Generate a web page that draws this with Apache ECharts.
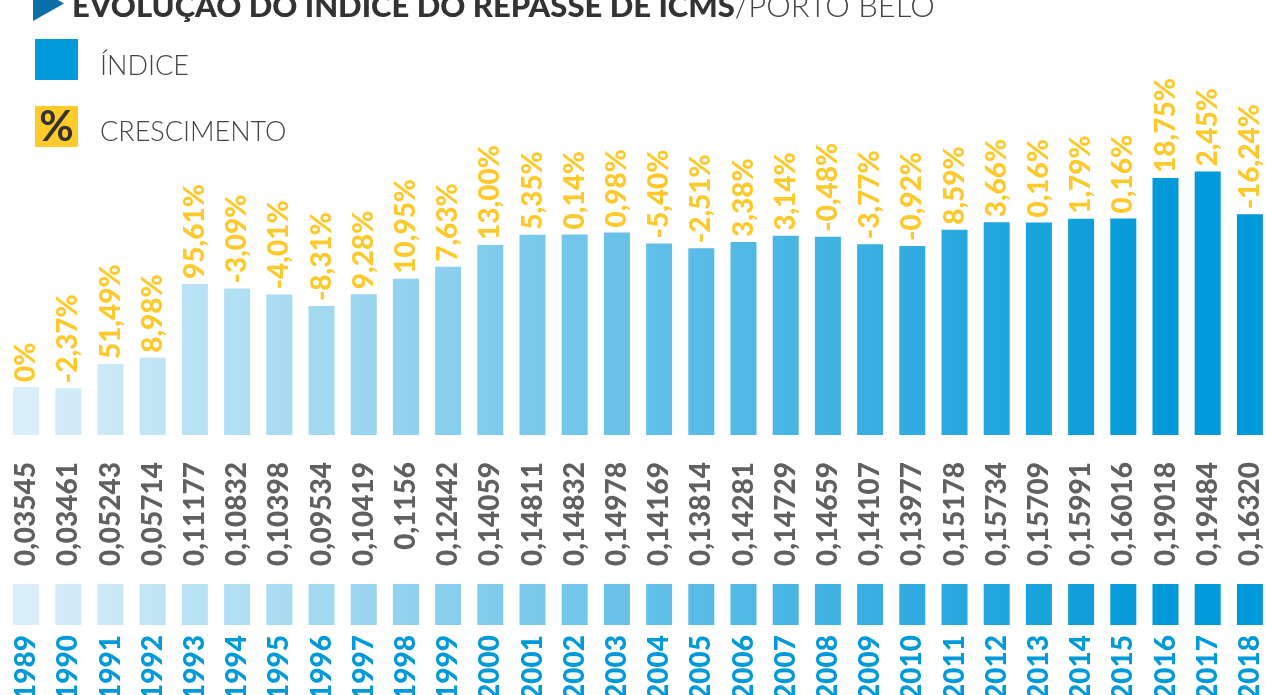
<!DOCTYPE html>
<html>
<head>
<meta charset="utf-8">
<script src="https://cdn.jsdelivr.net/npm/echarts@6/dist/echarts.min.js"></script>
<style>
  html, body { margin: 0; padding: 0; background: #fff; }
  #myChart { width: 1266px; height: 695px; }
</style>
</head>
<body>
<div id="myChart"></div>
<script>
const anos = ['1989', '1990', '1991', '1992', '1993', '1994', '1995', '1996', '1997', '1998',
  '1999', '2000', '2001', '2002', '2003', '2004', '2005', '2006', '2007', '2008',
  '2009', '2010', '2011', '2012', '2013', '2014', '2015', '2016', '2017', '2018'];
// índice como impresso (vírgula decimal)
const indiceTexto = ['0,03545', '0,03461', '0,05243', '0,05714', '0,11177', '0,10832', '0,10398', '0,09534', '0,10419', '0,1156',
  '0,12442', '0,14059', '0,14811', '0,14832', '0,14978', '0,14169', '0,13814', '0,14281', '0,14729', '0,14659',
  '0,14107', '0,13977', '0,15178', '0,15734', '0,15709', '0,15991', '0,16016', '0,19018', '0,19484', '0,16320'];
// crescimento em %
const crescimento = [0, -2.37, 51.49, 8.98, 95.61, -3.09, -4.01, -8.31, 9.28, 10.95,
  7.63, 13.00, 5.35, 0.14, 0.98, -5.40, -2.51, 3.38, 3.14, -0.48,
  -3.77, -0.92, 8.59, 3.66, 0.16, 1.79, 0.16, 18.75, 2.45, -16.24];

const indice = indiceTexto.map(s => parseFloat(s.replace(',', '.')));

const FONTE = 'Lato, "Open Sans", sans-serif';
const AMARELO = '#fec92b';
const AZUL = '#0099d9';

// cor em degradê da esquerda (claro) para a direita (azul)
function corRampa (t) {
  let k = Math.max(0, Math.min(1, t / 27));
  let a = [218, 239, 249], b = [0, 153, 217];
  let c = a.map((v, i) => Math.round(v + (b[i] - v) * k));
  return `rgb(${c[0]},${c[1]},${c[2]})`;
}
function degrade (i) {
  return new echarts.graphic.LinearGradient(0, 0, 1, 0, [
    { offset: 0, color: corRampa(i - 0.3) },
    { offset: 1, color: corRampa(i + 0.3) }
  ]);
}
function fmtPct (v) {
  if (v === 0) return '0%';
  return v.toFixed(2).replace('.', ',') + '%';
}

let myChart = echarts.init(document.getElementById('myChart'));

let option = {
  backgroundColor: '#fff',
  animation: false,
  graphic: [
    // triângulo do título
    {
      type: 'polygon',
      shape: { points: [[33, -14], [33, 21], [64, 3.5]] },
      style: { fill: '#0a6ea8' }
    },
    {
      type: 'text',
      left: 72,
      top: -9,
      style: {
        text: '{b|EVOLUÇÃO DO ÍNDICE DO REPASSE DE ICMS}{l|/PORTO BELO}',
        rich: {
          b: { fontFamily: FONTE, fontWeight: 900, fontSize: 31, fill: '#333333' },
          l: { fontFamily: FONTE, fontWeight: 300, fontSize: 31, fill: '#444444' }
        }
      }
    },
    // legenda
    { type: 'rect', shape: { x: 35, y: 39, width: 43, height: 41 }, style: { fill: AZUL } },
    {
      type: 'text', left: 100, top: 53,
      style: { text: 'ÍNDICE', fontFamily: FONTE, fontWeight: 300, fontSize: 27, fill: '#444444' }
    },
    { type: 'rect', shape: { x: 35, y: 106, width: 43, height: 41 }, style: { fill: '#ffcb2b' } },
    {
      type: 'text', x: 56.5, y: 127,
      style: { text: '%', fontFamily: FONTE, fontWeight: 'bold', fontSize: 42, fill: '#333333', align: 'center', verticalAlign: 'middle' }
    },
    {
      type: 'text', left: 100, top: 119,
      style: { text: 'CRESCIMENTO', fontFamily: FONTE, fontWeight: 300, fontSize: 27, fill: '#444444' }
    }
  ],
  grid: [
    { left: 5, width: 1266, top: 97, height: 338, outerBoundsMode: 'none', containLabel: false },
    { left: 5, width: 1266, top: 584, height: 41, outerBoundsMode: 'none', containLabel: false }
  ],
  xAxis: [
    {
      type: 'category',
      gridIndex: 0,
      data: anos,
      axisLine: { show: false },
      axisTick: { show: false },
      axisLabel: {
        interval: 0,
        rotate: 90,
        margin: 27,
        color: '#606060',
        fontFamily: FONTE,
        fontWeight: 900,
        fontSize: 28,
        formatter: (val, idx) => indiceTexto[idx]
      }
    },
    {
      type: 'category',
      gridIndex: 1,
      data: anos,
      axisLine: { show: false },
      axisTick: { show: false },
      axisLabel: {
        interval: 0,
        rotate: 90,
        margin: 10,
        color: AZUL,
        fontFamily: FONTE,
        fontWeight: 900,
        fontSize: 28
      }
    }
  ],
  yAxis: [
    { type: 'value', gridIndex: 0, min: 0, max: 0.25, show: false, splitLine: { show: false } },
    { type: 'value', gridIndex: 1, min: 0, max: 1, show: false, splitLine: { show: false } }
  ],
  series: [
    {
      name: 'ÍNDICE',
      type: 'bar',
      xAxisIndex: 0,
      yAxisIndex: 0,
      barWidth: 26,
      data: indice.map((v, i) => ({ value: v, itemStyle: { color: degrade(i) } })),
      label: {
        show: true,
        position: 'top',
        rotate: 90,
        align: 'left',
        verticalAlign: 'middle',
        distance: 5,
        color: AMARELO,
        fontFamily: FONTE,
        fontWeight: 900,
        fontSize: 28,
        formatter: (p) => fmtPct(crescimento[p.dataIndex])
      }
    },
    {
      // faixa de cores sob os valores
      type: 'bar',
      xAxisIndex: 1,
      yAxisIndex: 1,
      barWidth: 26,
      silent: true,
      data: anos.map((a, i) => ({ value: 1, itemStyle: { color: degrade(i) } }))
    }
  ]
};

myChart.setOption(option);
</script>
</body>
</html>
